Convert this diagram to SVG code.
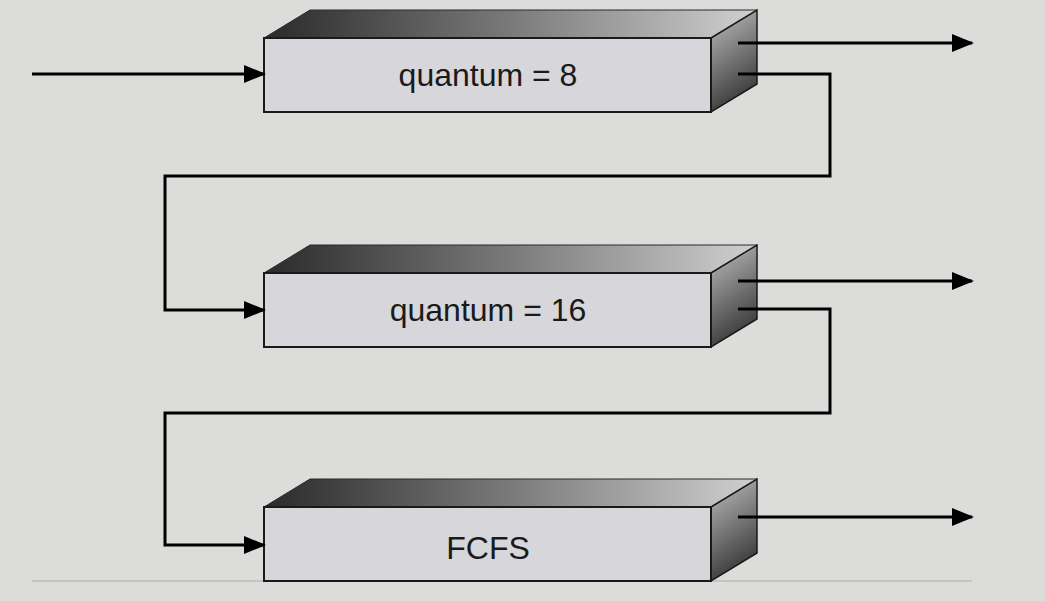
<svg xmlns="http://www.w3.org/2000/svg" width="1045" height="601" viewBox="0 0 1045 601">
<defs>
<linearGradient id="topg" x1="0" y1="0" x2="1" y2="0">
<stop offset="0" stop-color="#2a2a2a"/>
<stop offset="0.5" stop-color="#7a7a7a"/>
<stop offset="1" stop-color="#d0d0d0"/>
</linearGradient>
<linearGradient id="sideg" x1="0" y1="0" x2="0.3" y2="1">
<stop offset="0" stop-color="#c0c0c0"/>
<stop offset="1" stop-color="#3a3a3a"/>
</linearGradient>
<marker id="ah" markerWidth="22" markerHeight="18" refX="20" refY="9" orient="auto" markerUnits="userSpaceOnUse">
<path d="M0,0 L22,9 L0,18 Z" fill="#000"/>
</marker>
<style>
.front{fill:#d6d6db;stroke:#1a1a1a;stroke-width:2}
.top{fill:url(#topg);stroke:#2a2a2a;stroke-width:1}
.side{fill:url(#sideg);stroke:#1a1a1a;stroke-width:1.5}
.lbl{font-family:"Liberation Sans",Arial,sans-serif;font-size:32px;fill:#1a1a1a;text-anchor:middle}
.con{fill:none;stroke:#000;stroke-width:3}
</style>
</defs>
<rect width="1045" height="601" fill="#dcdcda"/>
<line x1="32" y1="581" x2="972" y2="581" stroke="#c4c4c4" stroke-width="2"/>
<g id="q8">
<polygon class="top" points="264,38 310,10 757,10 711,38"/>
<polygon class="side" points="711,38 757,10 757,84 711,112"/>
<rect class="front" x="264" y="38" width="447" height="74"/>
<text class="lbl" x="488" y="86">quantum = 8</text>
</g>
<g id="q16">
<polygon class="top" points="264,273 310,245 757,245 711,273"/>
<polygon class="side" points="711,273 757,245 757,319 711,347"/>
<rect class="front" x="264" y="273" width="447" height="74"/>
<text class="lbl" x="488" y="321">quantum = 16</text>
</g>
<g id="fcfs">
<polygon class="top" points="264,507 310,479 757,479 711,507"/>
<polygon class="side" points="711,507 757,479 757,553 711,581"/>
<rect class="front" x="264" y="507" width="447" height="74"/>
<text class="lbl" x="488" y="559">FCFS</text>
</g>
<g id="connectors">
<path class="con" d="M32,74 H264" marker-end="url(#ah)"/>
<path class="con" d="M738,43 H972" marker-end="url(#ah)"/>
<path class="con" d="M738,74 H830 V176 H165 V310 H264" marker-end="url(#ah)"/>
<path class="con" d="M738,281 H972" marker-end="url(#ah)"/>
<path class="con" d="M738,309 H830 V413 H165 V545 H264" marker-end="url(#ah)"/>
<path class="con" d="M738,517 H972" marker-end="url(#ah)"/>
</g>
</svg>
